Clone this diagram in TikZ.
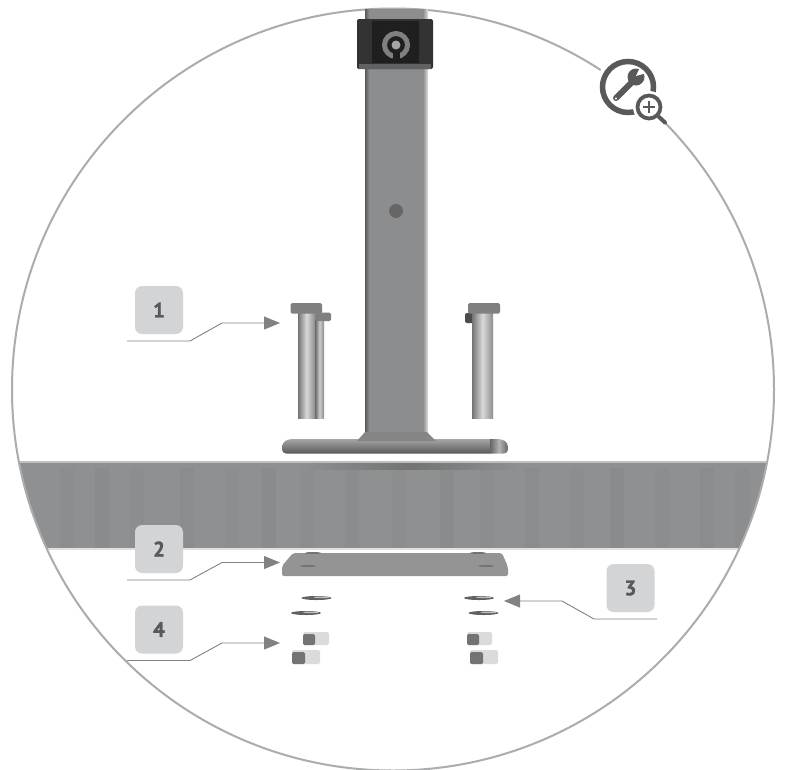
\documentclass[tikz,border=0pt]{standalone}
\usepackage{fontspec}
\setmainfont{PT Sans}[BoldFeatures={FakeBold=1.4}]
\usetikzlibrary{arrows.meta}
\definecolor{ring}{HTML}{ABACAD}
\definecolor{band}{HTML}{8F9092}
\definecolor{steel}{HTML}{8C8D8F}
\definecolor{icon}{HTML}{58595B}
\definecolor{tag}{HTML}{D3D4D5}
\definecolor{leader}{HTML}{808285}
\tikzset{
  x=1pt,y=-1pt,
  tagbox/.style={fill=tag,rounded corners=7pt,minimum width=48pt,minimum height=48pt,inner sep=0pt,
    text=icon,font=\fontsize{21}{21}\selectfont\bfseries},
  leaderline/.style={draw=leader,line width=0.9pt,-{Triangle[length=16pt,width=13pt]}},
  washer/.style={fill=black!62,draw=none},
  nutside/.style={fill=black!14,rounded corners=2pt},
  nutface/.style={fill=black!55,rounded corners=1.5pt},
  headblock/.style={fill=black!50,rounded corners=1.5pt},
}
\begin{document}
\begin{tikzpicture}
\useasboundingbox (0,0) rectangle (787,769);
\fill[white] (0,0) rectangle (787,769);
% band clipped by the big circle
\begin{scope}
  \clip (393,389.5) circle (381);
  \fill[band] (0,461) rectangle (787,549);
  \foreach \sx/\op in {60/.02,95/.03,130/.015,180/.025,225/.02,262/.03,300/.015,345/.025,392/.02,440/.03,480/.015,525/.025,570/.02,610/.03,655/.02,700/.025,735/.015}
    {\fill[black,opacity=\op] (\sx,468) rectangle (\sx+14,549);}
  \shade[left color=band,right color=band,middle color=black!55] (300,463) rectangle (520,469);
  \fill[black!25] (0,461) rectangle (787,462.5);
  \fill[black!12] (0,548) rectangle (787,550);
\end{scope}
% big circle
\draw[ring,line width=2pt] (393,389.5) circle (381);
% column
\shade[left color=black!65,right color=steel] (365,9) rectangle (369,434);
\fill[steel] (369,9) rectangle (423,434);
\shade[left color=steel,right color=black!12] (423,9) rectangle (428,434);
\fill[black!60] (396,211) circle (7);
% flare and base
\begin{scope}
  \clip[rounded corners=4pt] (282,453.5) -- (282,443) -- (288,439) -- (502,439) -- (508,443) -- (508,453.5) -- cycle;
  \shade[top color=black!35,bottom color=black!65] (282,439) rectangle (490,453.5);
  \shade[left color=black!60,right color=black!60,middle color=black!30] (490,439) rectangle (508,453.5);
\end{scope}
\fill[black!48] (365,432) -- (357,441) -- (436,441) -- (427,432) -- cycle;
% clip on top of the column
\fill[black!80,rounded corners=2pt] (357,19) rectangle (433,69);
\fill[black!88] (372,21) rectangle (419,63);
\fill[black!62] (359,64) rectangle (431,69);
\draw[black!50,line width=5pt] (396,45) circle (11.5);
\fill[black!88] (392.5,50) rectangle (399.5,61);
\fill[black!35] (396,45) circle (4.5);
% left bolts
\shade[left color=black!60,right color=black!45,middle color=black!20] (315,315) rectangle (324,418);
\fill[headblock] (315,312.5) rectangle (331,321);
\shade[left color=black!55,right color=black!45,middle color=black!15] (298,312) rectangle (315,418);
\fill[headblock] (290.5,303) rectangle (322,313.5);
% right bolts
\fill[black!70,rounded corners=2pt] (465,313) rectangle (476,323);
\shade[left color=black!55,right color=black!45,middle color=black!15] (472,312) rectangle (493,418);
\fill[headblock] (468,303) rectangle (500,313.5);
% under plate
\fill[black!42,rounded corners=2pt] (293,553) -- (502,553) -- (508,567) -- (508,576) -- (282,576) -- (282,566) -- cycle;
\foreach \hx/\hy in {308/566,478/553,313/553,486/566}{\fill[black!55] (\hx,\hy) ellipse (8 and 1);}
% washers
\foreach \wx/\wy in {316.5/598,306/613,479/598,483.5/613}
  {\fill[washer] (\wx,\wy) ellipse (15 and 2);\fill[black!25] (\wx+5,\wy-.7) ellipse (8 and .8);}
% nuts
\foreach \nx/\ny/\nw/\nh/\nd in {303/632/26/13/12,292/650/28/14/13,467/632/25/13/12,470/650/28/14/13}{
  \fill[nutside] (\nx,\ny) rectangle (\nx+\nw,\ny+\nh);
  \fill[nutface] (\nx,\ny+2) rectangle (\nx+\nd,\ny+\nh);
}
% tag boxes
\node[tagbox] (t1) at (159,310) {1};
\node[tagbox] (t2) at (159,549) {2};
\node[tagbox] (t3) at (630.5,588) {3};
\node[tagbox] (t4) at (159,629.5) {4};
% leaders
\coordinate (s1) at (127,341);
\coordinate (e1) at (280,323);
\coordinate (s2) at (127,580);
\coordinate (e2) at (280,562.5);
\coordinate (s4) at (127,660.5);
\coordinate (e4) at (280,643);
\coordinate (s3) at (657,619);
\coordinate (e3) at (504,601);
\draw[leaderline] (s1) -- (190,341) -- (222,323) -- (e1);
\draw[leaderline] (s2) -- (190,580) -- (222,562.5) -- (e2);
\draw[leaderline] (s4) -- (190,660.5) -- (222,643) -- (e4);
\draw[leaderline] (s3) -- (594,619) -- (562,601) -- (e3);
% icon
\fill[white] (628,87) circle (32);
\fill[white] (649,107) circle (20);
\draw[icon,line width=6pt,line cap=round] (616,98) -- (632,82);
\fill[icon] (636,77) circle (8.5);
\fill[white] (636,76) -- (642,63) -- (650,72) -- cycle;
\fill[white] (616,98.5) circle (1.2);
\draw[icon,line width=5.5pt] (628,87) circle (25.5);
\fill[white] (649,107) circle (16);
\draw[icon,line width=3.8pt] (649,107) circle (11.5);
\draw[icon,line width=2.2pt] (643,107) -- (655,107) (649,101) -- (649,113);
\draw[icon,line width=4pt,line cap=round] (658,116) -- (665,122.5);
\end{tikzpicture}
\end{document}
